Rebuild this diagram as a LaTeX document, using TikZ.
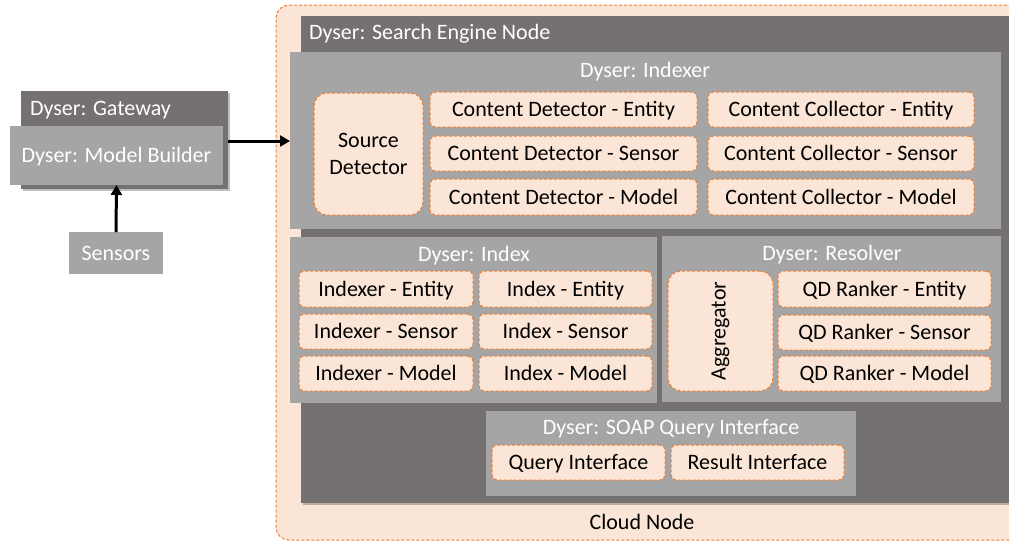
\documentclass[tikz,border=0pt]{standalone}
\usepackage{fontspec}
\setmainfont{Carlito}
\usetikzlibrary{shadows,arrows.meta}
\definecolor{dgray}{HTML}{767171}
\definecolor{lgray}{HTML}{A5A5A5}
\definecolor{ofill}{HTML}{FBE5D6}
\definecolor{oline}{HTML}{ED7D31}
\tikzset{
 base/.style={inner sep=0pt, outer sep=0pt, font=\fontsize{22}{27}\selectfont},
 dark/.style={base, fill=dgray},
 light/.style={base, fill=lgray, text=white, text height=15pt, text depth=1pt},
 compbase/.style={base, fill=ofill, draw=oline, dash pattern=on 3pt off 2pt, line width=1pt, rounded corners=5pt, text=black},
 comp/.style={compbase, text height=15pt, text depth=1pt},
 bigcomp/.style={compbase, rounded corners=13pt},
 title/.style={base, text=white},
 plain/.style={base, text=black},
 shad/.style={drop shadow={shadow xshift=1.5pt, shadow yshift=-2pt, opacity=0.25, fill=black}},
 arr/.style={line width=3pt, -{Triangle[length=10pt,width=11pt]}},
}
\newcommand\bx[7]{\node[#6, minimum width={(#4-#2)*1pt}, minimum height={(#5-#3)*1pt}] (#1) at ({(#2+#4)/2},{(#3+#5)/2}) {#7};}
\begin{document}
\begin{tikzpicture}[x=1pt,y=-1pt]
\useasboundingbox (0,0) rectangle (1009,542);
% cloud
\bx{cloud}{276}{5}{1025}{540}{bigcomp}{}
\node[plain] (cloudlbl) at (642,522) {Cloud Node};
% search engine
\bx{sen}{301}{16}{1012}{503}{dark,shad}{}
\node[title, anchor=west] (sentitle) at (309,34) {Dyser: Search Engine Node};
% indexer
\bx{idxr}{290}{52}{1001}{229}{light}{}
\node[title] (idxrtitle) at (645,72) {Dyser: Indexer};
\bx{srcdet}{314}{93}{423}{215}{bigcomp, align=center}{Source\\Detector}
\bx{cde}{430}{92}{697}{127}{comp}{Content Detector - Entity}
\bx{cds}{430}{136}{697}{171}{comp}{Content Detector - Sensor}
\bx{cdm}{430}{179}{697}{215}{comp}{Content Detector - Model}
\bx{cce}{708}{92}{974}{127}{comp}{Content Collector - Entity}
\bx{ccs}{708}{136}{974}{171}{comp}{Content Collector - Sensor}
\bx{ccm}{708}{179}{974}{215}{comp}{Content Collector - Model}
% index
\bx{idx}{290}{237}{657}{403}{light}{}
\node[title] (idxtitle) at (474,256) {Dyser: Index};
\bx{ie}{299}{271}{473}{307}{comp}{Indexer - Entity}
\bx{is}{299}{314}{473}{349}{comp}{Indexer - Sensor}
\bx{im}{299}{356}{473}{391}{comp}{Indexer - Model}
\bx{xe}{479}{271}{652}{307}{comp}{Index - Entity}
\bx{xs}{479}{314}{652}{349}{comp}{Index - Sensor}
\bx{xm}{479}{356}{652}{391}{comp}{Index - Model}
% resolver
\bx{res}{662}{236}{1001}{402}{light}{}
\node[title] (restitle) at (832,255) {Dyser: Resolver};
\bx{agg}{668}{271}{773}{391}{bigcomp}{}
\node[plain, rotate=90] (aggtxt) at (agg.center) {Aggregator};
\bx{qe}{778}{271}{991}{307}{comp}{QD Ranker - Entity}
\bx{qs}{778}{315}{991}{350}{comp}{QD Ranker - Sensor}
\bx{qm}{778}{356}{991}{391}{comp}{QD Ranker - Model}
% soap
\bx{soap}{486}{411}{856}{496}{light}{}
\node[title] (soaptitle) at (671,429) {Dyser: SOAP Query Interface};
\bx{qi}{492}{445}{665}{480}{comp}{Query Interface}
\bx{ri}{671}{445}{844}{480}{comp}{Result Interface}
% gateway
\bx{gw}{21}{91}{228}{189}{dark,shad}{}
\node[title, anchor=west] (gwtitle) at (30,110) {Dyser: Gateway};
\bx{mb}{10}{126}{223}{185}{light}{Dyser: Model Builder}
\bx{sensors}{69}{232}{163}{274}{light}{Sensors}
% arrows
\draw[arr] (sensors.north) -- (mb.south);
\draw[arr] (gw.east |- 0,141) -- (idxr.west |- 0,141);
\end{tikzpicture}
\end{document}
